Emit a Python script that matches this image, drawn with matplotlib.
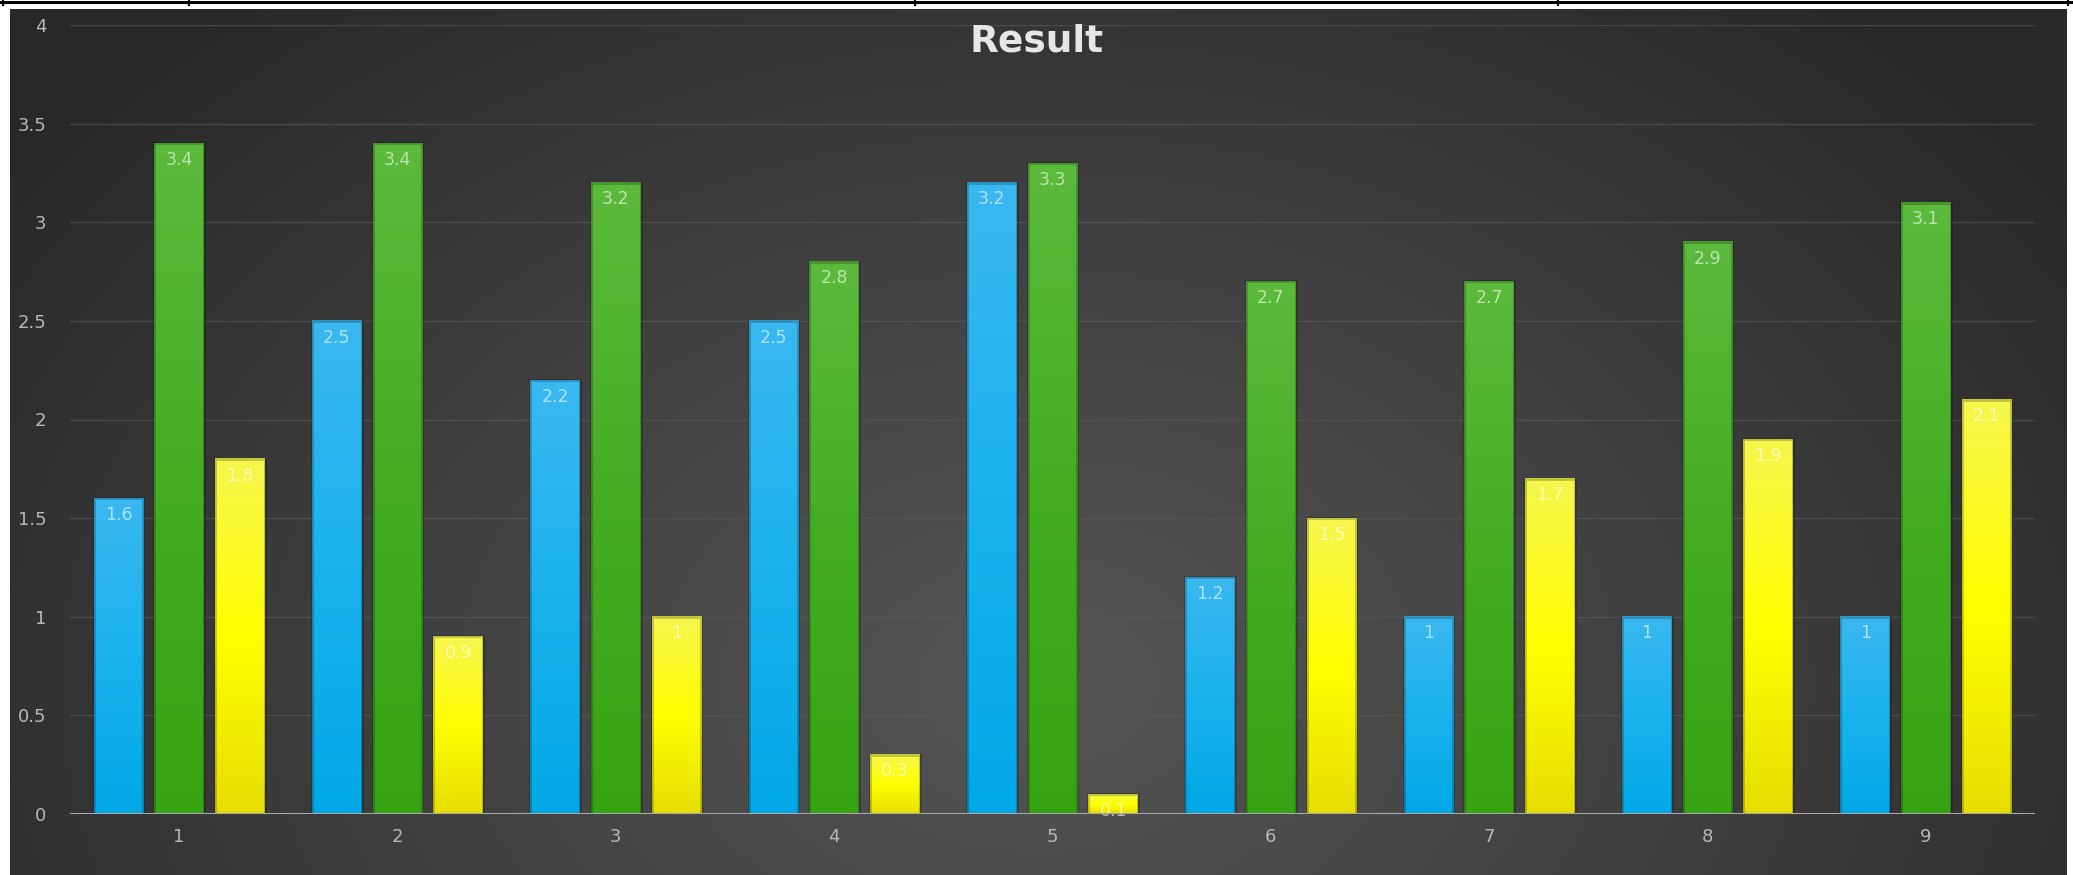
import numpy as np
import matplotlib.pyplot as plt
from matplotlib.colors import LinearSegmentedColormap
from matplotlib.lines import Line2D

plt.rcParams['font.family'] = ['DejaVu Sans']

# datos
categories = ['1', '2', '3', '4', '5', '6', '7', '8', '9']
blue = [1.6, 2.5, 2.2, 2.5, 3.2, 1.2, 1, 1, 1]
green = [3.4, 3.4, 3.2, 2.8, 3.3, 2.7, 2.7, 2.9, 3.1]
yellow = [1.8, 0.9, 1, 0.3, 0.1, 1.5, 1.7, 1.9, 2.1]
y_ticks = [0, 0.5, 1, 1.5, 2, 2.5, 3, 3.5, 4]
y_tick_labels = ['0', '0.5', '1', '1.5', '2', '2.5', '3', '3.5', '4']
title = 'Result'

W, H = 2073, 875
fig = plt.figure(figsize=(W / 100, H / 100), dpi=100, facecolor='white')

# borde de tabla arriba
fig.add_artist(Line2D([0, 1], [1 - 1.5 / H, 1 - 1.5 / H], transform=fig.transFigure,
                      color='black', lw=2.2))
for px in [3, 189, 915, 1558, 2068]:
    fig.add_artist(Line2D([px / W, px / W], [1, 1 - 5 / H], transform=fig.transFigure,
                          color='black', lw=1.5))

# fondo con degradado radial
bg = fig.add_axes([10 / W, 0, (2067 - 10) / W, (H - 9) / H])
bg.set_axis_off()
xx, yy = np.meshgrid(np.linspace(0, 1, 400), np.linspace(0, 1, 200))
d = np.sqrt(((xx - 0.5) / 0.62) ** 2 + ((yy - 0.22) / 1.05) ** 2)
d = np.clip(d, 0, 1)
bg_cmap = LinearSegmentedColormap.from_list('bg', ['#565656', '#404040', '#282828'])
bg.imshow(d, cmap=bg_cmap, origin='lower', aspect='auto', extent=(0, 1, 0, 1),
          interpolation='bicubic')

# ejes principales
ax = fig.add_axes([70 / W, (H - 814) / H, (2035 - 70) / W, (814 - 25) / H])
ax.set_facecolor('none')
x = np.arange(len(categories))
width = 0.228
pitch = 0.278

series = [
    (blue, -pitch, ['#3ab8f0', '#1ab2ee', '#00a8e6']),
    (green, 0, ['#5cba3c', '#44ad22', '#36a412']),
    (yellow, pitch, ['#f6f64e', '#ffff00', '#e6de00']),
]

grad = np.linspace(0, 1, 256).reshape(-1, 1)
for vals, off, cols in series:
    cmap = LinearSegmentedColormap.from_list('g', cols[::-1])
    bars = ax.bar(x + off, vals, width, color='none', edgecolor=(0, 0, 0, 0.22),
                  linewidth=2, zorder=3)
    for b in bars:
        x0, w, h = b.get_x(), b.get_width(), b.get_height()
        ax.imshow(grad, cmap=cmap, origin='lower', aspect='auto',
                  extent=(x0, x0 + w, 0, h), zorder=2, interpolation='bilinear')
        ax.annotate(f'{h:g}', (x0 + w / 2, h), xytext=(0, -12), textcoords='offset points',
                    ha='center', va='center', fontsize=12.5, color='white', alpha=0.6,
                    zorder=4)

ax.set_xlim(-0.5, len(categories) - 0.5)
ax.set_ylim(0, 4)
for yv in y_ticks[1:]:
    ax.axhline(yv, color='#5a5a5a', lw=1, alpha=0.6, zorder=1)
ax.axhline(0, color='#a8a8a8', lw=1.5, zorder=5)

ax.set_xticks(x)
ax.set_xticklabels(categories)
ax.set_yticks(y_ticks)
ax.set_yticklabels(y_tick_labels)
ax.tick_params(axis='x', length=0, pad=10, labelsize=13, labelcolor='#b8b8b8')
ax.tick_params(axis='y', length=0, pad=17, labelsize=13, labelcolor='#b8b8b8')
for s in ax.spines.values():
    s.set_visible(False)

fig.text(0.5, 1 - 42 / H, title, ha='center', va='center', fontsize=27,
         fontweight='bold', color='#e6e6e6')

plt.savefig('out.png', dpi=100)
